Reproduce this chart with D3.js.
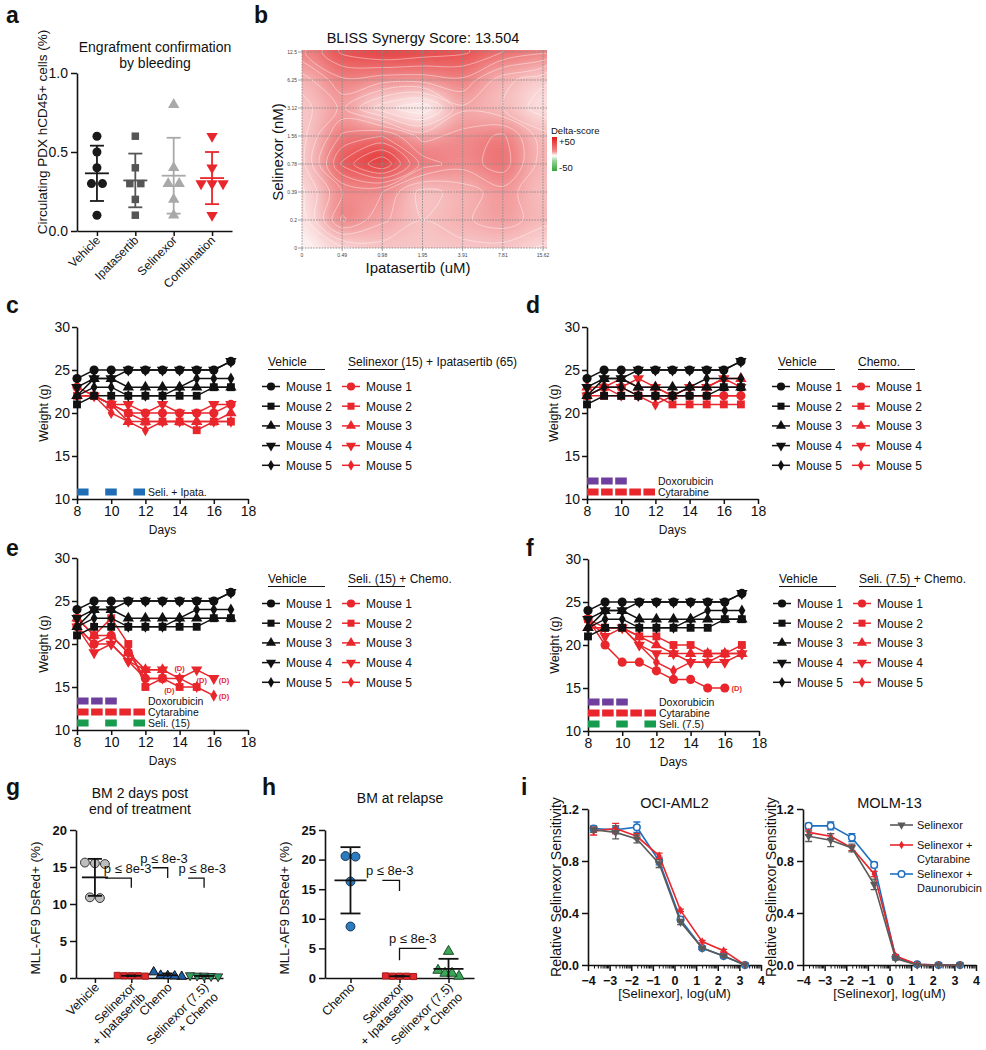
<!DOCTYPE html>
<html><head><meta charset="utf-8">
<script src="https://cdn.jsdelivr.net/npm/d3@7"></script>
<style>body{margin:0;background:#fff} svg{display:block}</style>
</head><body>
<svg id="chart" width="986" height="1050"></svg>
<script>
// ================= DATA =================
// a
const engraftGroups = ["Vehicle","Ipatasertib","Selinexor","Combination"];
const engraftVehicle = [0.6,0.5,0.4,0.3,0.3,0.1];
const engraftIpata = [0.6,0.4,0.3,0.3,0.2,0.1];
const engraftSeli = [0.8,0.4,0.3,0.3,0.2,0.1];
const engraftCombo = [0.6,0.4,0.3,0.3,0.3,0.1];
const engraftMean = [0.365,0.32,0.35,0.335];
const engraftSD = [0.175,0.17,0.24,0.165];
// b
const blissIpata = ["0","0.49","0.98","1.95","3.91","7.81","15.62"];
const blissSeli = ["0","0.2","0.39","0.78","1.56","3.12","6.25","12.5"];
const blissDelta = [ // rows: Selinexor 0 (bottom) ... 12.5 (top)
  [2, 8, 12, 12, 12, 12, 8],
  [6, 30, 20, 14, 18, 22, 16],
  [8, 24, 24, 12, 16, 22, 14],
  [12, 40, 54, 32, 26, 32, 16],
  [12, 30, 34, 22, 26, 30, 16],
  [12, 20, 6, 0, 18, 14, 6],
  [16, 28, 26, 26, 28, 16, 10],
  [28, 40, 44, 42, 40, 34, 30]
];
// c-f
const days = [8,9,10,11,12,13,14,15,16,17];
const mouseNames = ["Mouse 1","Mouse 2","Mouse 3","Mouse 4","Mouse 5"];
const vehicleWeights = [
  [24,25,25,25,25,25,25,25,25,26],
  [21,22,22,22,22,22,22,22,23,23],
  [22,24,24,23,23,23,23,23,23,23],
  [23,24,24,25,25,25,25,25,25,26],
  [22,23,23,22,22,22,23,24,24,24]
];
const seliIpataWeights = [
  [23,22,21,20,20,20,20,20,20,21],
  [22,22,21,20,19,19,19,18,19,19],
  [22,22,21,19,19,19,19,19,19,20],
  [23,22,21,21,20,21,20,20,21,21],
  [22,22,20,19,18,19,19,19,19,19]
];
const chemoWeights = [
  [22,23,23,22,22,22,22,22,22,22],
  [22,22,22,22,22,21,21,21,21,21],
  [23,23,24,23,23,22,23,23,24,24],
  [22,23,23,24,23,22,23,23,24,23],
  [22,23,22,22,21,22,22,22,22,22]
];
const seli15ChemoWeights = [
  [22,20,21,19,16,16,null,null,null,null],
  [23,21,23,20,15,16,15,15,null,null],
  [23,21,21,19,17,17,null,null,null,null],
  [22,19,20,18,17,17,16,17,16,null],
  [22,20,20,18,16,16,16,15,14,null]
];
const seli15Deaths = [[14.0,17.2],[13.4,14.6],[15.3,15.8],[16.6,15.8],[16.6,13.9]];
const seli75ChemoWeights = [
  [23,20,18,18,17,16,16,15,15,null],
  [23,22,22,21,21,20,20,19,19,20],
  [22,22,22,21,20,19,19,19,19,19],
  [23,21,22,20,19,19,18,18,18,19],
  [22,22,22,20,18,17,18,18,19,19]
];
const seli75Deaths = [[16.7,15]];
const doseSlots = [0,1,2,3,4];
const seliIpataDoses = [0,2,4];
const doxDoses = [0,1,2];
const cytDoses = [0,1,2,3,4];
const seliDoses = [0,2,4];
// g
const gGroups = ["Vehicle","Selinexor\n+ Ipatasertib","Chemo","Selinexor (7.5)\n+ Chemo"];
const gVehicle = [15.6,15.4,15.5,10.8,10.9];
const gSeliIpata = [0.3,0.3,0.25,0.35,0.3];
const gChemo = [0.8,0.35,0.2,0.3,0.25];
const gSeli75Chemo = [0.3,0.25,0.35,0.3,0.2];
const gMean = [13.6,0.3,0.38,0.28];
const gSD = [2.5,0.04,0.24,0.06];
const gPvals = ["p ≤ 8e-3","p ≤ 8e-3","p ≤ 8e-3"];
// h
const hGroups = ["Chemo","Selinexor\n+ Ipatasertib","Selinexor (7.5)\n+ Chemo"];
const hChemo = [20.5,20.6,16.3,8.7];
const hSeliIpata = [0.3,0.3,0.3,0.35,0.25];
const hSeli75Chemo = [4.5,1.3,0.8,0.3,0.8];
const hMean = [16.5,0.3,1.54];
const hSD = [5.6,0.04,1.7];
const hPvals = ["p ≤ 8e-3","p ≤ 8e-3"];
// i
const logConc = [-3.74,-2.72,-1.74,-0.71,0.28,1.28,2.27,3.26];
const drcSeries = ["Selinexor","Selinexor +\nCytarabine","Selinexor +\nDaunorubicin"];
const ociSeli = [1.04,1.02,0.97,0.78,0.33,0.13,0.07,0.0];
const ociSeliErr = [0.02,0.05,0.03,0.03,0.02,0.01,0.01,0.005];
const ociCyt = [1.03,1.05,0.99,0.84,0.42,0.18,0.11,0.0];
const ociCytErr = [0.03,0.04,0.02,0.02,0.01,0.01,0.01,0.005];
const ociDau = [1.05,1.04,1.06,0.80,0.35,0.13,0.07,0.0];
const ociDauErr = [0.02,0.03,0.04,0.03,0.02,0.01,0.01,0.005];
const molmSeli = [0.99,0.96,0.90,0.62,0.05,0.0,0.0,0.0];
const molmSeliErr = [0.04,0.05,0.03,0.04,0.01,0.005,0.005,0.005];
const molmCyt = [1.02,0.99,0.90,0.70,0.07,0.005,0.0,0.0];
const molmCytErr = [0.02,0.02,0.02,0.02,0.01,0.005,0.005,0.005];
const molmDau = [1.07,1.07,0.98,0.77,0.06,0.005,0.0,0.0];
const molmDauErr = [0.02,0.03,0.03,0.02,0.01,0.005,0.005,0.005];

// ================= DRAWING =================
const FONT = "'Liberation Sans', Arial, Helvetica, sans-serif";
const RED = "#e8262c", BLK = "#111111", BLUE = "#1f6db5", PURPLE = "#6f3f9e", GREEN = "#169b4f";
const svg = d3.select("#chart").attr("font-family", FONT);
const defs = svg.append("defs");

function txt(g, x, y, s, size, o = {}) {
  return g.append("text").attr("x", x).attr("y", y).text(s)
    .attr("font-size", size).attr("font-family", FONT)
    .attr("font-weight", o.bold ? "bold" : "normal")
    .attr("text-anchor", o.anchor || "start")
    .attr("fill", o.fill || "#111");
}
function vtxt(g, x, y, s, size) {
  return g.append("text").attr("transform", `translate(${x},${y}) rotate(-90)`).text(s)
    .attr("font-size", size).attr("font-family", FONT).attr("text-anchor", "middle").attr("fill", "#111");
}
function styleAxis(a, size, bold) {
  a.attr("font-family", FONT);
  a.select(".domain").attr("stroke", BLK).attr("stroke-width", 1.6);
  a.selectAll(".tick line").attr("stroke", BLK).attr("stroke-width", 1.5);
  a.selectAll(".tick text").attr("font-size", size).attr("fill", BLK).attr("font-family", FONT)
    .attr("font-weight", bold ? "bold" : "normal");
}
function sym(g, kind, x, y, size, fill, stroke, sw) {
  const t = { circle: d3.symbolCircle, square: d3.symbolSquare, tri: d3.symbolTriangle, tdown: d3.symbolTriangle, diamond: d3.symbolDiamond }[kind];
  return g.append("path").attr("d", d3.symbol(t, size)())
    .attr("transform", `translate(${x},${y})` + (kind === "tdown" ? " rotate(180)" : ""))
    .attr("fill", fill).attr("stroke", stroke || "none").attr("stroke-width", sw || 1);
}
function swarm(vals, yScale, thr, spacing) {
  const idx = vals.map((v, i) => i).sort((a, b) => vals[b] - vals[a]);
  const off = new Array(vals.length).fill(0);
  let i = 0;
  while (i < idx.length) {
    let j = i + 1;
    while (j < idx.length && Math.abs(yScale(vals[idx[j]]) - yScale(vals[idx[i]])) < thr) j++;
    const n = j - i, sp = n >= 4 ? spacing * 0.7 : spacing;
    for (let k = i; k < j; k++) off[idx[k]] = (k - i - (n - 1) / 2) * sp;
    i = j;
  }
  return off;
}
function panelLetter(x, y, s) { txt(svg, x, y, s, 23, { bold: true }); }

panelLetter(6, 23, "a"); panelLetter(254, 23, "b");
panelLetter(6, 313, "c"); panelLetter(526, 313, "d");
panelLetter(6, 556, "e"); panelLetter(526, 556, "f");
panelLetter(6, 795, "g"); panelLetter(262, 795, "h"); panelLetter(521, 795, "i");

// ---------- a ----------
(function () {
  const g = svg.append("g");
  const y = d3.scaleLinear().domain([0, 1]).range([231, 73]);
  const x = d3.scalePoint().domain(engraftGroups).range([77, 232]).padding(0.52);
  const ya = g.append("g").attr("transform", "translate(77,0)")
    .call(d3.axisLeft(y).tickValues([0, 0.5, 1]).tickFormat(d3.format(".1f")).tickSize(6).tickSizeOuter(0));
  styleAxis(ya, 14);
  const xa = g.append("g").attr("transform", "translate(0,231)")
    .call(d3.axisBottom(x).tickSize(5).tickSizeOuter(0).tickFormat(""));
  styleAxis(xa, 12);
  engraftGroups.forEach(c => {
    g.append("text").attr("transform", `translate(${x(c) + 4},${241}) rotate(-45)`)
      .attr("text-anchor", "end").attr("font-size", 12).attr("font-family", FONT).attr("fill", "#111").text(c);
  });
  txt(g, 155, 52, "Engrafment confirmation", 14, { anchor: "middle" });
  txt(g, 155, 68, "by bleeding", 14, { anchor: "middle" });
  vtxt(g, 47, 132, "Circulating PDX hCD45+ cells (%)", 13.5);
  const sets = [
    { v: engraftVehicle, k: "circle", c: "#1a1a1a", s: 64 },
    { v: engraftIpata, k: "square", c: "#555555", s: 56 },
    { v: engraftSeli, k: "tri", c: "#a9a9a9", s: 56 },
    { v: engraftCombo, k: "tdown", c: RED, s: 56 }];
  sets.forEach((st, gi) => {
    const cx = x(engraftGroups[gi]);
    const off = swarm(st.v, y, 8, 11);
    st.v.forEach((v, i) => sym(g, st.k, cx + off[i], y(v), st.s, st.c));
    const m = engraftMean[gi], sd = engraftSD[gi];
    const eb = g.append("g").attr("stroke", st.c).attr("stroke-width", 1.8);
    eb.append("line").attr("x1", cx).attr("x2", cx).attr("y1", y(m + sd)).attr("y2", y(m - sd));
    eb.append("line").attr("x1", cx - 12).attr("x2", cx + 12).attr("y1", y(m)).attr("y2", y(m));
    [m + sd, m - sd].forEach(e => eb.append("line").attr("x1", cx - 7).attr("x2", cx + 7).attr("y1", y(e)).attr("y2", y(e)));
  });
})();

// ---------- b ----------
(function () {
  const g = svg.append("g");
  const bx = d3.scalePoint().domain(blissIpata).range([302, 543]);
  const by = d3.scalePoint().domain(blissSeli).range([248, 52]);
  const sx = bx.step(), sy = by.step();
  const color = d3.scaleLinear().domain([-50, 0, 50]).range(["#34a534", "#ffffff", "#e31a1c"]).clamp(true);
  defs.append("clipPath").attr("id", "bclip").append("rect").attr("x", 302).attr("y", 50).attr("width", 245).attr("height", 198);
  const f = defs.append("filter").attr("id", "bblur").attr("filterUnits", "userSpaceOnUse")
    .attr("x", 220).attr("y", -40).attr("width", 420).attr("height", 380);
  f.append("feGaussianBlur").attr("stdDeviation", 12);
  const clip = g.append("g").attr("clip-path", "url(#bclip)");
  const heat = clip.append("g").attr("filter", "url(#bblur)");
  const nx = blissIpata.length, ny = blissSeli.length;
  blissDelta.forEach((row, j) => row.forEach((v, i) => {
    let x0 = bx(blissIpata[i]) - sx / 2, x1 = x0 + sx;
    let y0 = by(blissSeli[j]) - sy / 2, y1 = y0 + sy;
    if (i === 0) x0 -= 50; if (i === nx - 1) x1 += 50;
    if (j === 0) y1 += 50; if (j === ny - 1) y0 -= 50;
    heat.append("rect").attr("x", x0).attr("y", y0).attr("width", x1 - x0 + 0.5).attr("height", y1 - y0 + 0.5).attr("fill", color(v));
  }));
  // contours (rings drawn with a smooth closed curve)
  const flat = [];
  for (let j = ny - 1; j >= 0; j--) flat.push(...blissDelta[j]);
  const cons = d3.contours().size([nx, ny]).thresholds(d3.range(4, 56, 5))(flat);
  const ox = bx(blissIpata[0]), oy = by(blissSeli[ny - 1]);
  const ringLine = d3.line().x(p => ox + (p[0] - 0.5) * sx).y(p => oy + (p[1] - 0.5) * sy).curve(d3.curveCatmullRomClosed.alpha(0.5));
  const cg = clip.append("g").attr("fill", "none").attr("stroke", "#ffffff").attr("stroke-opacity", 0.42).attr("stroke-width", 1);
  cons.forEach(c => c.coordinates.forEach(poly => poly.forEach(ring => {
    cg.append("path").attr("d", ringLine(ring.slice(0, -1)));
  })));
  // grid
  const grid = g.append("g").attr("stroke", "#8a8a8a").attr("stroke-width", 0.9).attr("stroke-dasharray", "1.6,1.2");
  blissIpata.forEach(d => grid.append("line").attr("x1", bx(d)).attr("x2", bx(d)).attr("y1", 50).attr("y2", 248));
  blissSeli.forEach(d => grid.append("line").attr("x1", 302).attr("x2", 547).attr("y1", by(d)).attr("y2", by(d)));
  // tick labels
  blissIpata.forEach(d => {
    txt(g, bx(d), 257, d, 5, { anchor: "middle", fill: "#444" });
    g.append("line").attr("x1", bx(d)).attr("x2", bx(d)).attr("y1", 248).attr("y2", 251).attr("stroke", "#666").attr("stroke-width", 0.6);
  });
  blissSeli.forEach(d => {
    txt(g, 297, by(d) + 1.8, d, 5, { anchor: "end", fill: "#444" });
    g.append("line").attr("x1", 298).attr("x2", 302).attr("y1", by(d)).attr("y2", by(d)).attr("stroke", "#666").attr("stroke-width", 0.6);
  });
  txt(g, 423, 43, "BLISS Synergy Score: 13.504", 14.5, { anchor: "middle" });
  txt(g, 418, 273, "Ipatasertib (uM)", 15, { anchor: "middle" });
  vtxt(g, 283, 152, "Selinexor (nM)", 15);
  // legend
  const lg = defs.append("linearGradient").attr("id", "dgrad").attr("x1", 0).attr("x2", 0).attr("y1", 0).attr("y2", 1);
  [[0, color(50)], [0.42, color(25)], [0.55, "#ffffff"], [0.7, color(-25)], [1, color(-50)]].forEach(s =>
    lg.append("stop").attr("offset", s[0]).attr("stop-color", s[1]));
  txt(g, 551, 134, "Delta-score", 9.5);
  g.append("rect").attr("x", 552).attr("y", 137).attr("width", 5).attr("height", 34).attr("fill", "url(#dgrad)");
  txt(g, 559, 145, "+50", 9.5);
  txt(g, 559, 171, "-50", 9.5);
})();

// ---------- c-f ----------
const kinds = ["circle", "square", "tri", "tdown", "diamond"];
const ksize = { circle: 66, square: 62, tri: 56, tdown: 56, diamond: 42 };
function weightPanel(o) {
  const g = svg.append("g");
  const x = d3.scaleLinear().domain([8, 18]).range([o.x0, o.x0 + 171]);
  const y = d3.scaleLinear().domain([10, 30]).range([o.yTop + 172, o.yTop]);
  const xa = g.append("g").attr("transform", `translate(0,${y(10)})`)
    .call(d3.axisBottom(x).tickValues(d3.range(8, 19, 2)).tickSize(5).tickSizeOuter(0).tickPadding(2));
  styleAxis(xa, 14);
  const ya = g.append("g").attr("transform", `translate(${x(8)},0)`)
    .call(d3.axisLeft(y).tickValues(d3.range(10, 31, 5)).tickSize(5).tickSizeOuter(0).tickPadding(2));
  styleAxis(ya, 14);
  txt(g, x(13), y(10) + 35, "Days", 12, { anchor: "middle" });
  vtxt(g, x(8) - 29, y(20), "Weight (g)", 12.5);
  // doses
  const slot = d3.scaleBand().domain(doseSlots).range([x(8), x(8) + 68]).paddingInner(0.18).paddingOuter(0);
  o.doses.forEach((row, k) => {
    const cy = y(10) - 7 - (o.doses.length - 1 - k) * 11;
    row.slots.forEach(s => g.append("rect").attr("x", slot(s)).attr("y", cy - 3.5)
      .attr("width", slot.bandwidth()).attr("height", 7).attr("fill", row.color));
    txt(g, x(8) + 71, cy + 3.8, row.label, 10.5);
  });
  // series
  const line = d3.line().defined(d => d[1] != null).x(d => x(d[0])).y(d => y(d[1]));
  [{ data: o.red, c: RED }, { data: vehicleWeights, c: BLK }].forEach(set => {
    set.data.forEach((ser, m) => {
      const pts = days.map((d, i) => [d, ser[i]]);
      g.append("path").attr("d", line(pts)).attr("fill", "none").attr("stroke", set.c).attr("stroke-width", 1.5);
      pts.filter(p => p[1] != null).forEach(p => sym(g, kinds[m], x(p[0]), y(p[1]), ksize[kinds[m]], set.c));
    });
  });
  (o.deaths || []).forEach(d => txt(g, x(d[0]), y(d[1]) + 3, "(D)", 7.5, { anchor: "middle", fill: RED, bold: true }));
  // legend
  const lx = o.x0 + 191, ly = o.legendTop;
  txt(g, lx, ly, "Vehicle", 12);
  txt(g, lx + 80, ly, o.redTitle, 12);
  g.append("line").attr("x1", lx).attr("x2", lx + 57).attr("y1", ly + 3.5).attr("y2", ly + 3.5).attr("stroke", BLK).attr("stroke-width", 1.2);
  g.append("line").attr("x1", lx + 80).attr("x2", lx + 137).attr("y1", ly + 3.5).attr("y2", ly + 3.5).attr("stroke", BLK).attr("stroke-width", 1.2);
  mouseNames.forEach((nm, i) => {
    const ry = ly + 20.5 + i * 19.7;
    [[lx, BLK], [lx + 80, RED]].forEach(([cx, col]) => {
      g.append("line").attr("x1", cx - 6).attr("x2", cx + 12).attr("y1", ry).attr("y2", ry).attr("stroke", col).attr("stroke-width", 1.5);
      sym(g, kinds[i], cx + 3, ry, ksize[kinds[i]] * 0.8, col);
      txt(g, cx + 18, ry + 4.3, nm, 12);
    });
  });
}
weightPanel({ x0: 77, yTop: 327, red: seliIpataWeights, redTitle: "Selinexor (15) + Ipatasertib (65)", legendTop: 366,
  doses: [{ slots: seliIpataDoses, color: BLUE, label: "Seli. + Ipata." }] });
weightPanel({ x0: 587, yTop: 327, red: chemoWeights, redTitle: "Chemo.", legendTop: 366,
  doses: [{ slots: doxDoses, color: PURPLE, label: "Doxorubicin" }, { slots: cytDoses, color: RED, label: "Cytarabine" }] });
weightPanel({ x0: 77, yTop: 558, red: seli15ChemoWeights, redTitle: "Seli. (15) + Chemo.", legendTop: 583, deaths: seli15Deaths,
  doses: [{ slots: doxDoses, color: PURPLE, label: "Doxorubicin" }, { slots: cytDoses, color: RED, label: "Cytarabine" }, { slots: seliDoses, color: GREEN, label: "Seli. (15)" }] });
weightPanel({ x0: 588, yTop: 559, red: seli75ChemoWeights, redTitle: "Seli. (7.5) + Chemo.", legendTop: 583, deaths: seli75Deaths,
  doses: [{ slots: doxDoses, color: PURPLE, label: "Doxorubicin" }, { slots: cytDoses, color: RED, label: "Cytarabine" }, { slots: seliDoses, color: GREEN, label: "Seli. (7.5)" }] });

// ---------- g / h ----------
function dotPanel(o) {
  const g = svg.append("g");
  const y = d3.scaleLinear().domain([0, o.max]).range([978, 830]);
  const x = d3.scalePoint().domain(o.groups).range([o.x0, o.x1]).padding(0.52);
  const ya = g.append("g").attr("transform", `translate(${o.x0},0)`)
    .call(d3.axisLeft(y).tickValues(d3.range(0, o.max + 1, 5)).tickSize(6).tickSizeOuter(0).tickPadding(3));
  styleAxis(ya, 13, true);
  const xa = g.append("g").attr("transform", "translate(0,978)").call(d3.axisBottom(x).tickSize(5).tickSizeOuter(0).tickFormat(""));
  styleAxis(xa, 12);
  o.groups.forEach(c => {
    const t = g.append("text").attr("transform", `translate(${x(c) + 5},${988}) rotate(-45)`)
      .attr("text-anchor", "end").attr("font-size", 12.5).attr("font-family", FONT).attr("fill", "#111");
    c.split("\n").forEach((ln, i) => t.append("tspan").attr("x", 0).attr("dy", i ? "1.1em" : 0).text(ln));
  });
  vtxt(g, o.x0 - 36, 908, "MLL-AF9 DsRed+ (%)", 13.5);
  o.title.forEach((t, i) => txt(g, o.titleX, o.titleY + i * 16, t, 14, { anchor: "middle" }));
  o.sets.forEach((st, gi) => {
    const cx = x(o.groups[gi]);
    const m = o.mean[gi], sd = o.sd[gi];
    const off = swarm(st.v, y, 7, 10);
    st.v.forEach((v, i) => sym(g, st.k, cx + off[i], y(v), st.s, st.c, st.stroke, 1));
    const eb = g.append("g").attr("stroke", BLK).attr("stroke-width", 1.8);
    eb.append("line").attr("x1", cx).attr("x2", cx).attr("y1", y(m + sd)).attr("y2", y(Math.max(0, m - sd)));
    eb.append("line").attr("x1", cx - st.mw).attr("x2", cx + st.mw).attr("y1", y(m)).attr("y2", y(m));
    [m + sd, m - sd].filter(e => e > 0.2).forEach(e => eb.append("line").attr("x1", cx - st.cw).attr("x2", cx + st.cw).attr("y1", y(e)).attr("y2", y(e)));
  });
  o.brackets.forEach((b, i) => {
    const cx = x(o.groups[b.cat]);
    const hx = cx + b.dir * b.span * x.step();
    g.append("path").attr("d", `M${hx},${y(b.top)}H${cx}V${y(b.bottom)}`)
      .attr("fill", "none").attr("stroke", BLK).attr("stroke-width", 1.3);
    txt(g, cx + b.tdx * x.step(), Math.min(y(b.top), y(b.bottom)) - 5, o.pvals[i], 13, { anchor: "middle" });
  });
}
dotPanel({ x0: 76, x1: 223, max: 20, groups: gGroups, title: ["BM 2 days post", "end of treatment"], titleX: 140, titleY: 798,
  mean: gMean, sd: gSD, pvals: gPvals,
  sets: [
    { v: gVehicle, k: "circle", s: 62, c: "#bdbdbd", stroke: "#333", mw: 13, cw: 7 },
    { v: gSeliIpata, k: "square", s: 38, c: RED, stroke: "#a01a1a", mw: 10, cw: 5 },
    { v: gChemo, k: "tri", s: 40, c: "#1f5fa8", stroke: "#111", mw: 10, cw: 5 },
    { v: gSeli75Chemo, k: "tdown", s: 36, c: "#2ca25f", stroke: "#333", mw: 10, cw: 5 }],
  brackets: [
    { cat: 1, top: 13.5, bottom: 12.2, dir: -1, span: 0.72, tdx: -0.1 },
    { cat: 2, top: 14.9, bottom: 13.5, dir: -1, span: 0.42, tdx: -0.1 },
    { cat: 3, top: 13.5, bottom: 12.2, dir: -1, span: 0.44, tdx: -0.05 }] });
dotPanel({ x0: 325, x1: 474, max: 25, groups: hGroups, title: ["BM at relapse"], titleX: 400, titleY: 803,
  mean: hMean, sd: hSD, pvals: hPvals,
  sets: [
    { v: hChemo, k: "circle", s: 62, c: "#2b7bbf", stroke: "#1a3355", mw: 16, cw: 10 },
    { v: hSeliIpata, k: "square", s: 38, c: RED, stroke: "#a01a1a", mw: 10, cw: 5 },
    { v: hSeli75Chemo, k: "tri", s: 46, c: "#3aa757", stroke: "#1d4a2a", mw: 15, cw: 10 }],
  brackets: [
    { cat: 1, top: 16.5, bottom: 14.7, dir: -1, span: 0.35, tdx: -0.2 },
    { cat: 1, top: 5, bottom: 3, dir: 1, span: 0.55, tdx: 0.27 }] });

// ---------- i ----------
const drcStyles = [
  { c: "#5a5a5a", k: "tdown", s: 30, open: false },
  { c: RED, k: "diamond", s: 22, open: false },
  { c: "#1f6fc0", k: "circle", s: 34, open: true }];
function drcPanel(o) {
  const g = svg.append("g");
  const x = d3.scaleLinear().domain([-4, 4]).range([o.x0, o.x0 + 173]);
  const y = d3.scaleLinear().domain([0, 1.2]).range([965, 809]);
  const ya = g.append("g").attr("transform", `translate(${o.x0},0)`)
    .call(d3.axisLeft(y).tickValues([0, 0.4, 0.8, 1.2]).tickFormat(d3.format(".1f")).tickSize(6).tickSizeOuter(0).tickPadding(3));
  styleAxis(ya, 12.5, true);
  const xa = g.append("g").attr("transform", "translate(0,965)")
    .call(d3.axisBottom(x).tickValues(d3.range(-4, 5, 1)).tickSize(6).tickSizeOuter(0).tickPadding(5));
  styleAxis(xa, 12.5, true);
  const minor = [];
  d3.range(-4, 4).forEach(n => d3.range(2, 10).forEach(k => minor.push(n + Math.log10(k))));
  g.append("g").selectAll("line").data(minor).join("line").attr("x1", d => x(d)).attr("x2", d => x(d))
    .attr("y1", 965).attr("y2", 968.5).attr("stroke", BLK).attr("stroke-width", 1);
  txt(g, x(0), 808, o.title, 14.5, { anchor: "middle" });
  txt(g, x(0), 998, "[Selinexor], log(uM)", 13, { anchor: "middle" });
  vtxt(g, o.x0 - 27, 887, "Relative Selinexor Sensitivity", 14);
  const line = d3.line().x((d, i) => x(logConc[i])).y(d => y(d));
  [2, 1, 0].forEach(si => {
    const st = drcStyles[si], vals = o.vals[si], errs = o.errs[si];
    g.append("path").attr("d", line(vals)).attr("fill", "none").attr("stroke", st.c).attr("stroke-width", 1.6);
    vals.forEach((v, i) => {
      const cx = x(logConc[i]);
      if (errs[i] > 0.008) {
        g.append("path").attr("d", `M${cx - 3.5},${y(v + errs[i])}H${cx + 3.5}M${cx},${y(v + errs[i])}V${y(v - errs[i])}M${cx - 3.5},${y(v - errs[i])}H${cx + 3.5}`)
          .attr("stroke", st.c).attr("stroke-width", 1.3).attr("fill", "none");
      }
      sym(g, st.k, cx, y(v), st.s, st.open ? "#fff" : st.c, st.open ? st.c : "none", 1.5);
    });
  });
  if (o.legend) {
    const lx = 890;
    const rows = [[825, 829], [845, 849], [874, 878]];
    drcSeries.forEach((nm, si) => {
      const st = drcStyles[si], ry = rows[si][0];
      g.append("line").attr("x1", lx).attr("x2", lx + 23).attr("y1", ry).attr("y2", ry).attr("stroke", st.c).attr("stroke-width", 1.6);
      sym(g, st.k, lx + 11.5, ry, st.s, st.open ? "#fff" : st.c, st.open ? st.c : "none", 1.5);
      nm.split("\n").forEach((ln, li) => txt(g, lx + 27, rows[si][1] + li * 14, ln, 11));
    });
  }
}
drcPanel({ x0: 588, title: "OCI-AML2", vals: [ociSeli, ociCyt, ociDau], errs: [ociSeliErr, ociCytErr, ociDauErr] });
drcPanel({ x0: 803, title: "MOLM-13", vals: [molmSeli, molmCyt, molmDau], errs: [molmSeliErr, molmCytErr, molmDauErr], legend: true });
</script>
</body></html>
